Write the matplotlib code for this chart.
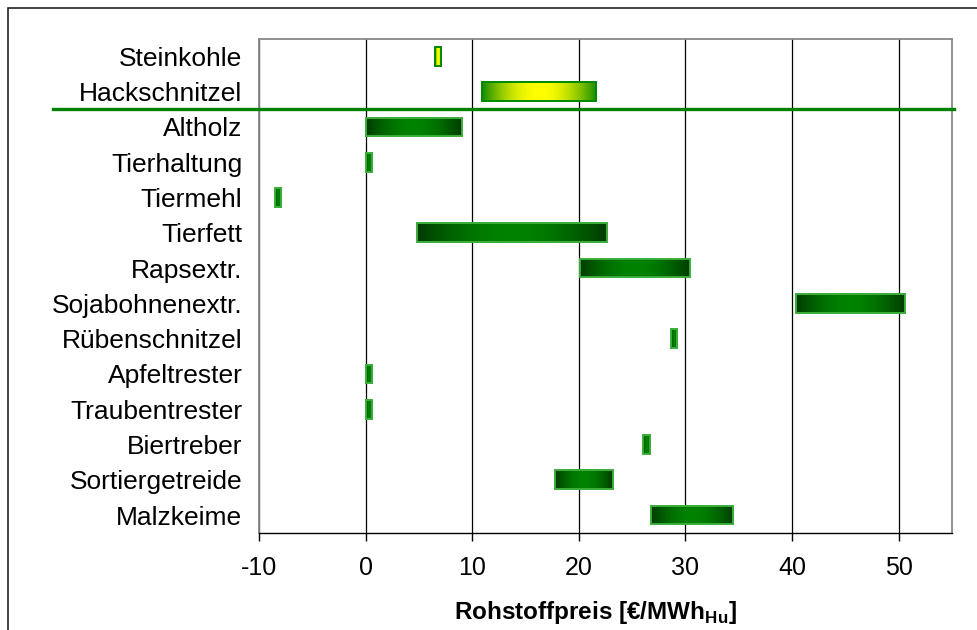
import numpy as np
import matplotlib
matplotlib.use('Agg')
import matplotlib.pyplot as plt
import matplotlib.transforms as mtransforms
from matplotlib.patches import Rectangle
from matplotlib.colors import to_rgb

plt.rcParams['font.family'] = ['Liberation Sans', 'DejaVu Sans']
plt.rcParams['mathtext.fontset'] = 'custom'
plt.rcParams['mathtext.rm'] = 'Liberation Sans'
plt.rcParams['mathtext.bf'] = 'Liberation Sans:bold'

# Rohstoffe, von oben nach unten
categories = ['Steinkohle', 'Hackschnitzel', 'Altholz', 'Tierhaltung', 'Tiermehl',
              'Tierfett', 'Rapsextr.', 'Sojabohnenextr.', 'Rübenschnitzel',
              'Apfeltrester', 'Traubentrester', 'Biertreber', 'Sortiergetreide',
              'Malzkeime']
# Preisspanne in EUR/MWh_Hu
price_low = [6.5, 10.9, 0.0, 0.0, -8.5, 4.8, 20.1, 40.4, 28.6, 0.0, 0.0, 26.0, 17.8, 26.8]
price_high = [7.1, 21.6, 9.0, 0.6, -7.9, 22.6, 30.4, 50.6, 29.2, 0.6, 0.6, 26.7, 23.2, 34.5]
# Referenzbrennstoffe (gelb) vs. Reststoffe (gruen)
is_reference = [True, True] + [False] * 12
xticks = [-10, 0, 10, 20, 30, 40, 50]

fig = plt.figure(figsize=(9.77, 6.3), dpi=100)
ax = fig.add_axes([259 / 977, 1 - 532.7 / 630, (952 - 259) / 977, (532.7 - 38.7) / 630])

y = np.arange(len(categories))
widths = np.array(price_high) - np.array(price_low)

# gradient: dark at both ends, bright in the middle
g = np.linspace(0, 1, 256)
prof = np.sin(np.pi * g) ** 0.9


def gradient(c_edge, c_mid):
    a = np.array(to_rgb(c_edge))
    b = np.array(to_rgb(c_mid))
    return (a[None, :] + (b - a)[None, :] * prof[:, None])[None, :, :]


grad_green = gradient('#003a00', '#008200')
grad_yellow = gradient('#108a00', '#ffff00')

bars = ax.barh(y, widths, left=price_low, height=0.53, facecolor='none', zorder=3)
for bar, ref in zip(bars, is_reference):
    bar.set_edgecolor('#008800' if ref else '#3aae3a')
    bar.set_linewidth(1.4)
    x0, y0 = bar.get_x(), bar.get_y()
    im = ax.imshow(grad_yellow if ref else grad_green,
                   extent=(x0, x0 + bar.get_width(), y0, y0 + bar.get_height()),
                   aspect='auto', interpolation='bilinear', zorder=2)
    im.set_clip_path(bar)

ax.set_xlim(-10, 55)
ax.set_ylim(len(categories) - 0.5, -0.5)
ax.set_xticks(xticks)
ax.set_xticklabels([str(t) for t in xticks], fontsize=18)
ax.set_yticks(y)
ax.set_yticklabels(categories, fontsize=19)
ax.tick_params(axis='y', length=0, pad=12)
ax.tick_params(axis='x', length=6, width=1, direction='out', pad=11)
ax.grid(axis='x', color='black', linewidth=0.9, zorder=1)
ax.set_axisbelow(True)

for side in ['top', 'right', 'left']:
    ax.spines[side].set_color('#888888')
    ax.spines[side].set_linewidth(1.3)
ax.spines['bottom'].set_color('black')
ax.spines['bottom'].set_linewidth(1.0)

ax.set_xlabel(r'Rohstoffpreis [€/MWh$_{\mathbf{Hu}}$]', fontsize=17.5, fontweight='bold')
ax.xaxis.set_label_coords(0.486, -0.135)

# Trennlinie zwischen Referenzbrennstoffen und Reststoffen
trans = mtransforms.blended_transform_factory(fig.transFigure, ax.transData)
ax.plot([53 / 977, 954 / 977], [1.5, 1.5], color='#008000', linewidth=2.4,
        transform=trans, clip_on=False, zorder=4)

# Rahmen um die Grafik
fig.patches.append(Rectangle((8 / 977, -0.1), 1.2, 1 - 8 / 630 + 0.1,
                             transform=fig.transFigure, fill=False,
                             edgecolor='#222222', linewidth=1.2))

fig.savefig('out.png', dpi=100, facecolor='white')
